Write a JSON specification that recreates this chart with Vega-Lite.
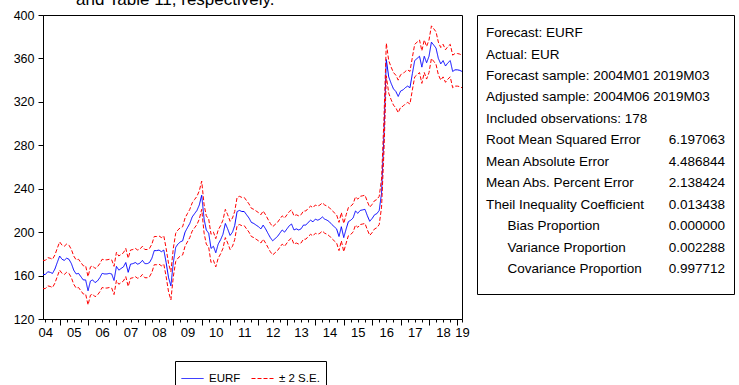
{
 "$schema": "https://vega.github.io/schema/vega-lite/v6.json",
 "background": "white",
 "padding": {"left": 12, "top": -10, "right": 0, "bottom": 0},
 "spacing": 6,
 "title": {"text": "and Table 11, respectively.", "anchor": "start", "frame": "group", "dx": 33, "offset": -17, "baseline": "bottom", "fontSize": 17, "fontWeight": "normal", "font": "Liberation Sans", "color": "black"},
 "config": {
  "font": "Liberation Sans",
  "view": {"stroke": "black", "strokeWidth": 1},
  "axis": {"domainColor": "black", "tickColor": "black", "labelColor": "black", "labelFont": "Liberation Sans", "grid": false},
  "legend": {"title": null, "orient": "none", "legendX": 132, "legendY": 346, "direction": "horizontal", "strokeColor": "black", "padding": 6, "symbolType": "stroke", "symbolSize": 484, "symbolStrokeWidth": 1, "labelFontSize": 11.5, "labelColor": "black", "labelFont": "Liberation Sans", "columnPadding": 8, "labelOffset": 5}
 },
 "hconcat": [
  {
   "width": 419,
   "height": 304,
   "data": {"values": [
{"date":"2004-06","EURF":161,"upper":174,"lower":148},
{"date":"2004-07","EURF":161,"upper":174,"lower":148},
{"date":"2004-08","EURF":163.5,"upper":176.5,"lower":150.5},
{"date":"2004-09","EURF":163,"upper":176,"lower":150},
{"date":"2004-10","EURF":162,"upper":175,"lower":149},
{"date":"2004-11","EURF":166,"upper":179,"lower":153},
{"date":"2004-12","EURF":172,"upper":185,"lower":159},
{"date":"2005-01","EURF":178,"upper":191,"lower":165},
{"date":"2005-02","EURF":175,"upper":188,"lower":162},
{"date":"2005-03","EURF":174,"upper":187,"lower":161},
{"date":"2005-04","EURF":176,"upper":189,"lower":163},
{"date":"2005-05","EURF":175,"upper":188,"lower":162},
{"date":"2005-06","EURF":171,"upper":184,"lower":158},
{"date":"2005-07","EURF":165,"upper":178,"lower":152},
{"date":"2005-08","EURF":161.5,"upper":174.5,"lower":148.5},
{"date":"2005-09","EURF":162,"upper":175,"lower":149},
{"date":"2005-10","EURF":159,"upper":172,"lower":146},
{"date":"2005-11","EURF":156,"upper":169,"lower":143},
{"date":"2005-12","EURF":156,"upper":169,"lower":143},
{"date":"2006-01","EURF":146,"upper":159,"lower":133},
{"date":"2006-02","EURF":155,"upper":168,"lower":142},
{"date":"2006-03","EURF":156,"upper":169,"lower":143},
{"date":"2006-04","EURF":153.5,"upper":166.5,"lower":140.5},
{"date":"2006-05","EURF":155,"upper":168,"lower":142},
{"date":"2006-06","EURF":158,"upper":171,"lower":145},
{"date":"2006-07","EURF":162,"upper":175,"lower":149},
{"date":"2006-08","EURF":161.5,"upper":174.5,"lower":148.5},
{"date":"2006-09","EURF":161.5,"upper":174.5,"lower":148.5},
{"date":"2006-10","EURF":162,"upper":175,"lower":149},
{"date":"2006-11","EURF":161.5,"upper":174.5,"lower":148.5},
{"date":"2006-12","EURF":155.5,"upper":168.5,"lower":142.5},
{"date":"2007-01","EURF":168.5,"upper":181.5,"lower":155.5},
{"date":"2007-02","EURF":165,"upper":178,"lower":152},
{"date":"2007-03","EURF":166.5,"upper":179.5,"lower":153.5},
{"date":"2007-04","EURF":168,"upper":181,"lower":155},
{"date":"2007-05","EURF":172,"upper":185,"lower":159},
{"date":"2007-06","EURF":163,"upper":176,"lower":150},
{"date":"2007-07","EURF":170.5,"upper":183.5,"lower":157.5},
{"date":"2007-08","EURF":171,"upper":184,"lower":158},
{"date":"2007-09","EURF":172,"upper":185,"lower":159},
{"date":"2007-10","EURF":170.5,"upper":183.5,"lower":157.5},
{"date":"2007-11","EURF":171.5,"upper":184.5,"lower":158.5},
{"date":"2007-12","EURF":174,"upper":187,"lower":161},
{"date":"2008-01","EURF":171,"upper":184,"lower":158},
{"date":"2008-02","EURF":171,"upper":184,"lower":158},
{"date":"2008-03","EURF":172,"upper":185,"lower":159},
{"date":"2008-04","EURF":176,"upper":189,"lower":163},
{"date":"2008-05","EURF":183,"upper":196,"lower":170},
{"date":"2008-06","EURF":183,"upper":196,"lower":170},
{"date":"2008-07","EURF":183.5,"upper":196.5,"lower":170.5},
{"date":"2008-08","EURF":182,"upper":195,"lower":169},
{"date":"2008-09","EURF":183.5,"upper":196.5,"lower":170.5},
{"date":"2008-10","EURF":172,"upper":185,"lower":159},
{"date":"2008-11","EURF":158,"upper":171,"lower":145},
{"date":"2008-12","EURF":150.5,"upper":163.5,"lower":137.5},
{"date":"2009-01","EURF":172,"upper":185,"lower":159},
{"date":"2009-02","EURF":186,"upper":199,"lower":173},
{"date":"2009-03","EURF":189,"upper":202,"lower":176},
{"date":"2009-04","EURF":191,"upper":204,"lower":178},
{"date":"2009-05","EURF":192,"upper":205,"lower":179},
{"date":"2009-06","EURF":200,"upper":213,"lower":187},
{"date":"2009-07","EURF":204,"upper":217,"lower":191},
{"date":"2009-08","EURF":208,"upper":221,"lower":195},
{"date":"2009-09","EURF":214,"upper":227,"lower":201},
{"date":"2009-10","EURF":217,"upper":230,"lower":204},
{"date":"2009-11","EURF":220,"upper":233,"lower":207},
{"date":"2009-12","EURF":225,"upper":238,"lower":212},
{"date":"2010-01","EURF":234,"upper":247,"lower":221},
{"date":"2010-02","EURF":212,"upper":225,"lower":199},
{"date":"2010-03","EURF":202,"upper":215,"lower":189},
{"date":"2010-04","EURF":199,"upper":212,"lower":186},
{"date":"2010-05","EURF":185,"upper":198,"lower":172},
{"date":"2010-06","EURF":187,"upper":200,"lower":174},
{"date":"2010-07","EURF":181,"upper":194,"lower":168},
{"date":"2010-08","EURF":189,"upper":202,"lower":176},
{"date":"2010-09","EURF":193,"upper":206,"lower":180},
{"date":"2010-10","EURF":198,"upper":211,"lower":185},
{"date":"2010-11","EURF":208,"upper":221,"lower":195},
{"date":"2010-12","EURF":203,"upper":216,"lower":190},
{"date":"2011-01","EURF":197,"upper":210,"lower":184},
{"date":"2011-02","EURF":200,"upper":213,"lower":187},
{"date":"2011-03","EURF":206,"upper":219,"lower":193},
{"date":"2011-04","EURF":219,"upper":232,"lower":206},
{"date":"2011-05","EURF":220,"upper":233,"lower":207},
{"date":"2011-06","EURF":219,"upper":232,"lower":206},
{"date":"2011-07","EURF":219,"upper":232,"lower":206},
{"date":"2011-08","EURF":216,"upper":229,"lower":203},
{"date":"2011-09","EURF":213,"upper":226,"lower":200},
{"date":"2011-10","EURF":209,"upper":222,"lower":196},
{"date":"2011-11","EURF":208,"upper":221,"lower":195},
{"date":"2011-12","EURF":206.5,"upper":219.5,"lower":193.5},
{"date":"2012-01","EURF":205,"upper":218,"lower":192},
{"date":"2012-02","EURF":203,"upper":216,"lower":190},
{"date":"2012-03","EURF":206.5,"upper":219.5,"lower":193.5},
{"date":"2012-04","EURF":203,"upper":216,"lower":190},
{"date":"2012-05","EURF":199,"upper":212,"lower":186},
{"date":"2012-06","EURF":195,"upper":208,"lower":182},
{"date":"2012-07","EURF":192,"upper":205,"lower":179},
{"date":"2012-08","EURF":194,"upper":207,"lower":181},
{"date":"2012-09","EURF":196,"upper":209,"lower":183},
{"date":"2012-10","EURF":199,"upper":212,"lower":186},
{"date":"2012-11","EURF":202,"upper":215,"lower":189},
{"date":"2012-12","EURF":200,"upper":213,"lower":187},
{"date":"2013-01","EURF":203,"upper":216,"lower":190},
{"date":"2013-02","EURF":206,"upper":219,"lower":193},
{"date":"2013-03","EURF":207.5,"upper":220.5,"lower":194.5},
{"date":"2013-04","EURF":202,"upper":215,"lower":189},
{"date":"2013-05","EURF":203,"upper":216,"lower":190},
{"date":"2013-06","EURF":202,"upper":215,"lower":189},
{"date":"2013-07","EURF":203,"upper":216,"lower":190},
{"date":"2013-08","EURF":206.5,"upper":219.5,"lower":193.5},
{"date":"2013-09","EURF":206.5,"upper":219.5,"lower":193.5},
{"date":"2013-10","EURF":209,"upper":222,"lower":196},
{"date":"2013-11","EURF":211,"upper":224,"lower":198},
{"date":"2013-12","EURF":209.5,"upper":222.5,"lower":196.5},
{"date":"2014-01","EURF":212,"upper":225,"lower":199},
{"date":"2014-02","EURF":211,"upper":224,"lower":198},
{"date":"2014-03","EURF":212,"upper":225,"lower":199},
{"date":"2014-04","EURF":214,"upper":227,"lower":201},
{"date":"2014-05","EURF":212,"upper":225,"lower":199},
{"date":"2014-06","EURF":211,"upper":224,"lower":198},
{"date":"2014-07","EURF":209.5,"upper":222.5,"lower":196.5},
{"date":"2014-08","EURF":207,"upper":220,"lower":194},
{"date":"2014-09","EURF":205,"upper":218,"lower":192},
{"date":"2014-10","EURF":203,"upper":216,"lower":190},
{"date":"2014-11","EURF":196,"upper":209,"lower":183},
{"date":"2014-12","EURF":205,"upper":218,"lower":192},
{"date":"2015-01","EURF":195,"upper":208,"lower":182},
{"date":"2015-02","EURF":203,"upper":216,"lower":190},
{"date":"2015-03","EURF":209.6,"upper":222.6,"lower":196.6},
{"date":"2015-04","EURF":211,"upper":224,"lower":198},
{"date":"2015-05","EURF":213,"upper":226,"lower":200},
{"date":"2015-06","EURF":219.5,"upper":232.5,"lower":206.5},
{"date":"2015-07","EURF":217.4,"upper":230.4,"lower":204.4},
{"date":"2015-08","EURF":220,"upper":233,"lower":207},
{"date":"2015-09","EURF":220.5,"upper":233.5,"lower":207.5},
{"date":"2015-10","EURF":221,"upper":234,"lower":208},
{"date":"2015-11","EURF":215,"upper":228,"lower":202},
{"date":"2015-12","EURF":210,"upper":223,"lower":197},
{"date":"2016-01","EURF":212.6,"upper":225.6,"lower":199.6},
{"date":"2016-02","EURF":216,"upper":229,"lower":203},
{"date":"2016-03","EURF":217,"upper":230,"lower":204},
{"date":"2016-04","EURF":220,"upper":233,"lower":207},
{"date":"2016-05","EURF":236,"upper":249,"lower":223},
{"date":"2016-06","EURF":290,"upper":305,"lower":275},
{"date":"2016-07","EURF":359,"upper":374,"lower":344},
{"date":"2016-08","EURF":343,"upper":358,"lower":328},
{"date":"2016-09","EURF":337,"upper":352,"lower":322},
{"date":"2016-10","EURF":332,"upper":347,"lower":317},
{"date":"2016-11","EURF":329.5,"upper":344.5,"lower":314.5},
{"date":"2016-12","EURF":325,"upper":340,"lower":310},
{"date":"2017-01","EURF":330,"upper":345,"lower":315},
{"date":"2017-02","EURF":331,"upper":346,"lower":316},
{"date":"2017-03","EURF":333,"upper":348,"lower":318},
{"date":"2017-04","EURF":334.5,"upper":349.5,"lower":319.5},
{"date":"2017-05","EURF":333,"upper":348,"lower":318},
{"date":"2017-06","EURF":346,"upper":361,"lower":331},
{"date":"2017-07","EURF":358,"upper":373,"lower":343},
{"date":"2017-08","EURF":360,"upper":375,"lower":345},
{"date":"2017-09","EURF":362,"upper":377,"lower":347},
{"date":"2017-10","EURF":352,"upper":367,"lower":337},
{"date":"2017-11","EURF":362,"upper":377,"lower":347},
{"date":"2017-12","EURF":356,"upper":371,"lower":341},
{"date":"2018-01","EURF":362,"upper":377,"lower":347},
{"date":"2018-02","EURF":375,"upper":390,"lower":360},
{"date":"2018-03","EURF":372.5,"upper":387.5,"lower":357.5},
{"date":"2018-04","EURF":369.5,"upper":384.5,"lower":354.5},
{"date":"2018-05","EURF":360,"upper":375,"lower":345},
{"date":"2018-06","EURF":355,"upper":370,"lower":340},
{"date":"2018-07","EURF":358,"upper":373,"lower":343},
{"date":"2018-08","EURF":353,"upper":368,"lower":338},
{"date":"2018-09","EURF":356,"upper":371,"lower":341},
{"date":"2018-10","EURF":358,"upper":373,"lower":343},
{"date":"2018-11","EURF":348,"upper":363,"lower":333},
{"date":"2018-12","EURF":349.5,"upper":364.5,"lower":334.5},
{"date":"2019-01","EURF":349.5,"upper":364.5,"lower":334.5},
{"date":"2019-02","EURF":349,"upper":364,"lower":334},
{"date":"2019-03","EURF":348,"upper":363,"lower":333}
   ]},
   "encoding": {
    "x": {
     "field": "date", "type": "temporal", "title": null,
     "scale": {"type": "utc", "domain": [{"year": 2004, "month": 6, "date": 1, "utc": true}, {"year": 2019, "month": 3, "date": 1, "utc": true}]},
     "axis": {
      "values": [
       {"year":2004,"month":7,"utc":true},{"year":2004,"month":10,"utc":true},
       {"year":2005,"month":1,"utc":true},{"year":2005,"month":4,"utc":true},{"year":2005,"month":7,"utc":true},{"year":2005,"month":10,"utc":true},
       {"year":2006,"month":1,"utc":true},{"year":2006,"month":4,"utc":true},{"year":2006,"month":7,"utc":true},{"year":2006,"month":10,"utc":true},
       {"year":2007,"month":1,"utc":true},{"year":2007,"month":4,"utc":true},{"year":2007,"month":7,"utc":true},{"year":2007,"month":10,"utc":true},
       {"year":2008,"month":1,"utc":true},{"year":2008,"month":4,"utc":true},{"year":2008,"month":7,"utc":true},{"year":2008,"month":10,"utc":true},
       {"year":2009,"month":1,"utc":true},{"year":2009,"month":4,"utc":true},{"year":2009,"month":7,"utc":true},{"year":2009,"month":10,"utc":true},
       {"year":2010,"month":1,"utc":true},{"year":2010,"month":4,"utc":true},{"year":2010,"month":7,"utc":true},{"year":2010,"month":10,"utc":true},
       {"year":2011,"month":1,"utc":true},{"year":2011,"month":4,"utc":true},{"year":2011,"month":7,"utc":true},{"year":2011,"month":10,"utc":true},
       {"year":2012,"month":1,"utc":true},{"year":2012,"month":4,"utc":true},{"year":2012,"month":7,"utc":true},{"year":2012,"month":10,"utc":true},
       {"year":2013,"month":1,"utc":true},{"year":2013,"month":4,"utc":true},{"year":2013,"month":7,"utc":true},{"year":2013,"month":10,"utc":true},
       {"year":2014,"month":1,"utc":true},{"year":2014,"month":4,"utc":true},{"year":2014,"month":7,"utc":true},{"year":2014,"month":10,"utc":true},
       {"year":2015,"month":1,"utc":true},{"year":2015,"month":4,"utc":true},{"year":2015,"month":7,"utc":true},{"year":2015,"month":10,"utc":true},
       {"year":2016,"month":1,"utc":true},{"year":2016,"month":4,"utc":true},{"year":2016,"month":7,"utc":true},{"year":2016,"month":10,"utc":true},
       {"year":2017,"month":1,"utc":true},{"year":2017,"month":4,"utc":true},{"year":2017,"month":7,"utc":true},{"year":2017,"month":10,"utc":true},
       {"year":2018,"month":1,"utc":true},{"year":2018,"month":4,"utc":true},{"year":2018,"month":7,"utc":true},{"year":2018,"month":10,"utc":true},
       {"year":2019,"month":1,"utc":true},{"year":2019,"month":3,"utc":true}
      ],
      "labelExpr": "(utcmonth(datum.value) == 6 || (utcyear(datum.value) == 2019 && utcmonth(datum.value) == 2)) ? utcFormat(datum.value, '%y') : ''",
      "tickSize": {"condition": {"test": "utcmonth(datum.value) == 0", "value": 6}, "value": 3},
      "labelFlush": false,
      "labelOverlap": false,
      "labelBound": false,
      "labelFontSize": 13,
      "labelPadding": 4
     }
    }
   },
   "layer": [
    {
     "mark": {"type": "line", "strokeWidth": 1},
     "encoding": {
      "y": {"field": "EURF", "type": "quantitative", "title": null,
            "scale": {"domain": [120, 400], "nice": false, "zero": false},
            "axis": {"values": [120, 160, 200, 240, 280, 320, 360, 400], "tickSize": 5, "labelFontSize": 12.5, "labelPadding": 4}},
      "color": {"datum": "EURF", "type": "nominal", "scale": {"domain": ["EURF", "± 2 S.E."], "range": ["#0000ff", "#ff0000"]}},
      "strokeDash": {"datum": "EURF", "type": "nominal", "scale": {"domain": ["EURF", "± 2 S.E."], "range": [[1, 0], [4, 2]]}}
     }
    },
    {
     "mark": {"type": "line", "strokeWidth": 1},
     "encoding": {
      "y": {"field": "upper", "type": "quantitative"},
      "color": {"datum": "± 2 S.E.", "type": "nominal"},
      "strokeDash": {"datum": "± 2 S.E.", "type": "nominal"}
     }
    },
    {
     "mark": {"type": "line", "strokeWidth": 1},
     "encoding": {
      "y": {"field": "lower", "type": "quantitative"},
      "color": {"datum": "± 2 S.E.", "type": "nominal"},
      "strokeDash": {"datum": "± 2 S.E.", "type": "nominal"}
     }
    }
   ]
  },
  {
   "width": 257,
   "height": 279,
   "data": {"values": [
    {"line": 1, "level": 0, "label": "Forecast: EURF", "value": ""},
    {"line": 2, "level": 0, "label": "Actual: EUR", "value": ""},
    {"line": 3, "level": 0, "label": "Forecast sample: 2004M01 2019M03", "value": ""},
    {"line": 4, "level": 0, "label": "Adjusted sample: 2004M06 2019M03", "value": ""},
    {"line": 5, "level": 0, "label": "Included observations: 178", "value": ""},
    {"line": 6, "level": 0, "label": "Root Mean Squared Error", "value": "6.197063"},
    {"line": 7, "level": 0, "label": "Mean Absolute Error", "value": "4.486844"},
    {"line": 8, "level": 0, "label": "Mean Abs. Percent Error", "value": "2.138424"},
    {"line": 9, "level": 0, "label": "Theil Inequality Coefficient", "value": "0.013438"},
    {"line": 10, "level": 1, "label": "Bias Proportion", "value": "0.000000"},
    {"line": 11, "level": 1, "label": "Variance Proportion", "value": "0.002288"},
    {"line": 12, "level": 1, "label": "Covariance Proportion", "value": "0.997712"}
   ]},
   "encoding": {
    "y": {"field": "line", "type": "ordinal", "axis": null,
          "scale": {"type": "band", "paddingInner": 0, "paddingOuter": 0.49, "align": 0.345}}
   },
   "layer": [
    {
     "mark": {"type": "text", "align": "left", "baseline": "middle", "dx": 9, "fontSize": 13.5, "font": "Liberation Sans", "color": "black"},
     "encoding": {
      "x": {"field": "level", "type": "quantitative", "scale": {"domain": [0, 12]}, "axis": null},
      "text": {"field": "label"}
     }
    },
    {
     "mark": {"type": "text", "align": "right", "baseline": "middle", "dx": -9, "fontSize": 13.5, "font": "Liberation Sans", "color": "black"},
     "encoding": {
      "x": {"datum": 12, "type": "quantitative"},
      "text": {"field": "value"}
     }
    }
   ]
  }
 ]
}
